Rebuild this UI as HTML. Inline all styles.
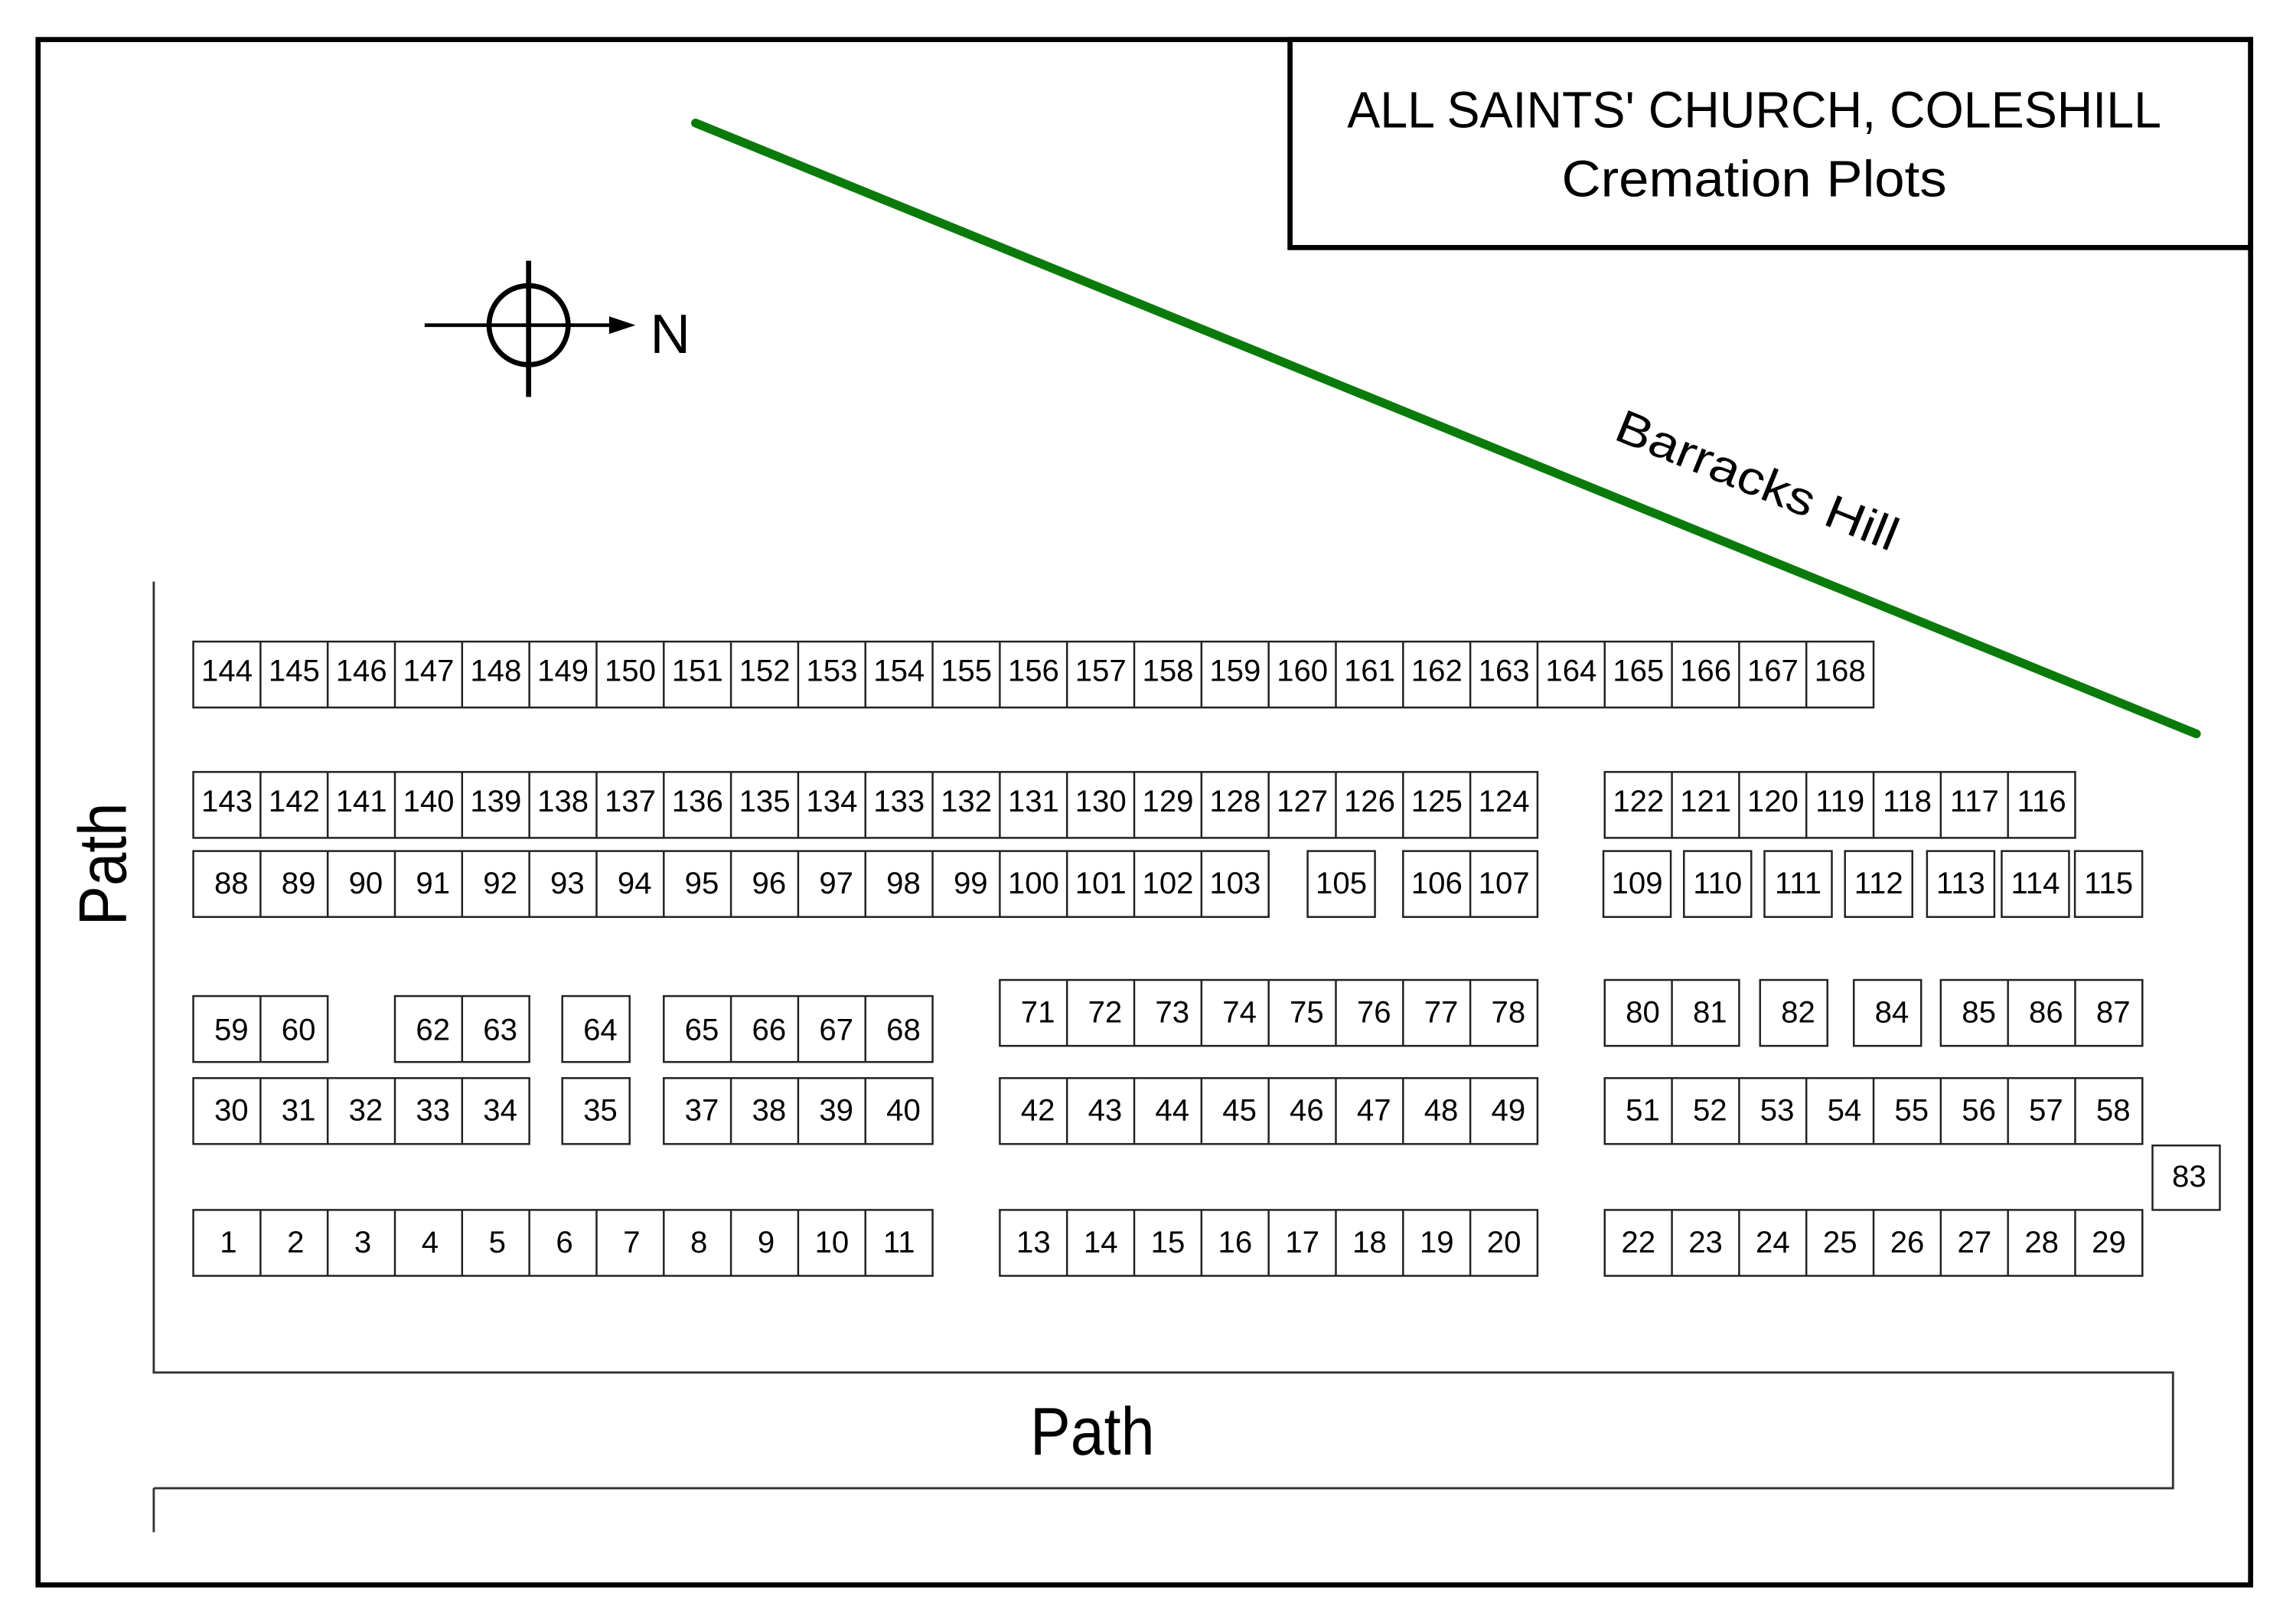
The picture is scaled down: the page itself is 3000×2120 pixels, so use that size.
<!DOCTYPE html>
<html><head><meta charset="utf-8"><style>
html,body{margin:0;padding:0;background:#fff;}
svg{display:block;}
text{font-family:"Liberation Sans",sans-serif;fill:#000;}
.c text{font-size:21px;text-anchor:middle;}
.c rect{fill:none;stroke:#222;stroke-width:1.3;}
.c path{fill:none;stroke:#222;stroke-width:1.3;}
</style></head><body>
<svg width="3000" height="2120" viewBox="0 0 1568 1108" preserveAspectRatio="none" xmlns="http://www.w3.org/2000/svg">
<rect x="26" y="27" width="1511" height="1055" fill="none" stroke="#000" stroke-width="3.5"/>
<rect x="881" y="27" width="656" height="142" fill="none" stroke="#000" stroke-width="3.5"/>
<text x="1198" y="87" font-size="35" text-anchor="middle" textLength="556" lengthAdjust="spacingAndGlyphs">ALL SAINTS' CHURCH, COLESHILL</text>
<text x="1198" y="134" font-size="35" text-anchor="middle" textLength="263" lengthAdjust="spacingAndGlyphs">Cremation Plots</text>
<line x1="475" y1="84" x2="1500" y2="501" stroke="#0a7a0a" stroke-width="6" stroke-linecap="round"/>
<text transform="translate(1196,338) rotate(22.1)" font-size="32" text-anchor="middle" textLength="205" lengthAdjust="spacingAndGlyphs">Barracks Hill</text>
<!-- compass -->
<circle cx="361" cy="222" r="27" fill="none" stroke="#000" stroke-width="3.5"/>
<line x1="290" y1="222" x2="420" y2="222" stroke="#000" stroke-width="2.5"/>
<polygon points="434,222 416,216 416,228" fill="#000"/>
<line x1="361" y1="178" x2="361" y2="271" stroke="#000" stroke-width="3.5"/>
<text x="444" y="241" font-size="38">N</text>
<!-- paths -->
<path d="M105,397 V937 H1484 V1016 H105 M105,1016 V1046" fill="none" stroke="#333" stroke-width="1.5"/>
<text x="746" y="993" font-size="46" text-anchor="middle" textLength="85" lengthAdjust="spacingAndGlyphs">Path</text>
<text transform="translate(86,590) rotate(-90)" font-size="46" text-anchor="middle" textLength="84" lengthAdjust="spacingAndGlyphs">Path</text>

<g class="c">
<!-- Row A 144-168 -->
<rect x="132" y="438" width="1147.5" height="45"/>
<path d="M177.9,438V483M223.8,438V483M269.7,438V483M315.6,438V483M361.5,438V483M407.4,438V483M453.3,438V483M499.2,438V483M545.1,438V483M591,438V483M636.9,438V483M682.8,438V483M728.7,438V483M774.6,438V483M820.5,438V483M866.4,438V483M912.3,438V483M958.2,438V483M1004.1,438V483M1050,438V483M1095.9,438V483M1141.8,438V483M1187.7,438V483M1233.6,438V483"/>
<text x="155" y="465">144</text><text x="200.9" y="465">145</text><text x="246.8" y="465">146</text><text x="292.7" y="465">147</text><text x="338.6" y="465">148</text><text x="384.5" y="465">149</text><text x="430.4" y="465">150</text><text x="476.3" y="465">151</text><text x="522.2" y="465">152</text><text x="568.1" y="465">153</text><text x="614" y="465">154</text><text x="659.9" y="465">155</text><text x="705.8" y="465">156</text><text x="751.7" y="465">157</text><text x="797.6" y="465">158</text><text x="843.5" y="465">159</text><text x="889.4" y="465">160</text><text x="935.3" y="465">161</text><text x="981.2" y="465">162</text><text x="1027.1" y="465">163</text><text x="1073" y="465">164</text><text x="1118.9" y="465">165</text><text x="1164.8" y="465">166</text><text x="1210.7" y="465">167</text><text x="1256.6" y="465">168</text>

<!-- Row B 143-124 -->
<rect x="132" y="527" width="918" height="45"/>
<path d="M177.9,527V572M223.8,527V572M269.7,527V572M315.6,527V572M361.5,527V572M407.4,527V572M453.3,527V572M499.2,527V572M545.1,527V572M591,527V572M636.9,527V572M682.8,527V572M728.7,527V572M774.6,527V572M820.5,527V572M866.4,527V572M912.3,527V572M958.2,527V572M1004.1,527V572"/>
<text x="155" y="554">143</text><text x="200.9" y="554">142</text><text x="246.8" y="554">141</text><text x="292.7" y="554">140</text><text x="338.6" y="554">139</text><text x="384.5" y="554">138</text><text x="430.4" y="554">137</text><text x="476.3" y="554">136</text><text x="522.2" y="554">135</text><text x="568.1" y="554">134</text><text x="614" y="554">133</text><text x="659.9" y="554">132</text><text x="705.8" y="554">131</text><text x="751.7" y="554">130</text><text x="797.6" y="554">129</text><text x="843.5" y="554">128</text><text x="889.4" y="554">127</text><text x="935.3" y="554">126</text><text x="981.2" y="554">125</text><text x="1027.1" y="554">124</text>
<rect x="1095.9" y="527" width="321.3" height="45"/>
<path d="M1141.8,527V572M1187.7,527V572M1233.6,527V572M1279.5,527V572M1325.4,527V572M1371.3,527V572"/>
<text x="1118.9" y="554">122</text><text x="1164.8" y="554">121</text><text x="1210.7" y="554">120</text><text x="1256.6" y="554">119</text><text x="1302.5" y="554">118</text><text x="1348.4" y="554">117</text><text x="1394.3" y="554">116</text>

<!-- Row C 88-115 -->
<rect x="132" y="581" width="734.4" height="45"/>
<path d="M177.9,581V626M223.8,581V626M269.7,581V626M315.6,581V626M361.5,581V626M407.4,581V626M453.3,581V626M499.2,581V626M545.1,581V626M591,581V626M636.9,581V626M682.8,581V626M728.7,581V626M774.6,581V626M820.5,581V626"/>
<text x="158" y="610">88</text><text x="203.9" y="610">89</text><text x="249.8" y="610">90</text><text x="295.7" y="610">91</text><text x="341.6" y="610">92</text><text x="387.5" y="610">93</text><text x="433.4" y="610">94</text><text x="479.3" y="610">95</text><text x="525.2" y="610">96</text><text x="571.1" y="610">97</text><text x="617" y="610">98</text><text x="662.9" y="610">99</text><text x="705.8" y="610">100</text><text x="751.7" y="610">101</text><text x="797.6" y="610">102</text><text x="843.5" y="610">103</text>
<rect x="893" y="581" width="46" height="45"/><text x="916" y="610">105</text>
<rect x="958.2" y="581" width="91.8" height="45"/><path d="M1004.1,581V626"/>
<text x="981.2" y="610">106</text><text x="1027.1" y="610">107</text>
<rect x="1095" y="581" width="46" height="45"/><text x="1118" y="610">109</text>
<rect x="1150" y="581" width="46" height="45"/><text x="1173" y="610">110</text>
<rect x="1205" y="581" width="46" height="45"/><text x="1228" y="610">111</text>
<rect x="1260" y="581" width="46" height="45"/><text x="1283" y="610">112</text>
<rect x="1316" y="581" width="46" height="45"/><text x="1339" y="610">113</text>
<rect x="1367" y="581" width="46" height="45"/><text x="1390" y="610">114</text>
<rect x="1417" y="581" width="46" height="45"/><text x="1440" y="610">115</text>

<!-- Row D left 59-68 -->
<rect x="132" y="680" width="91.8" height="45"/><path d="M177.9,680V725"/>
<text x="158" y="710">59</text><text x="203.9" y="710">60</text>
<rect x="269.7" y="680" width="91.8" height="45"/><path d="M315.6,680V725"/>
<text x="295.7" y="710">62</text><text x="341.6" y="710">63</text>
<rect x="384" y="680" width="46" height="45"/><text x="410" y="710">64</text>
<rect x="453.3" y="680" width="183.6" height="45"/><path d="M499.2,680V725M545.1,680V725M591,680V725"/>
<text x="479.3" y="710">65</text><text x="525.2" y="710">66</text><text x="571.1" y="710">67</text><text x="617" y="710">68</text>

<!-- Row D right 71-87 -->
<rect x="682.8" y="669" width="367.2" height="45"/>
<path d="M728.7,669V714M774.6,669V714M820.5,669V714M866.4,669V714M912.3,669V714M958.2,669V714M1004.1,669V714"/>
<text x="708.8" y="698">71</text><text x="754.7" y="698">72</text><text x="800.6" y="698">73</text><text x="846.5" y="698">74</text><text x="892.4" y="698">75</text><text x="938.3" y="698">76</text><text x="984.2" y="698">77</text><text x="1030.1" y="698">78</text>
<rect x="1095.9" y="669" width="91.8" height="45"/><path d="M1141.8,669V714"/>
<text x="1121.9" y="698">80</text><text x="1167.8" y="698">81</text>
<rect x="1202" y="669" width="46" height="45"/><text x="1228" y="698">82</text>
<rect x="1266" y="669" width="46" height="45"/><text x="1292" y="698">84</text>
<rect x="1325.4" y="669" width="137.7" height="45"/><path d="M1371.3,669V714M1417.2,669V714"/>
<text x="1351.4" y="698">85</text><text x="1397.3" y="698">86</text><text x="1443.2" y="698">87</text>

<!-- Row E 30-58 -->
<rect x="132" y="736" width="229.5" height="45"/>
<path d="M177.9,736V781M223.8,736V781M269.7,736V781M315.6,736V781"/>
<text x="158" y="765">30</text><text x="203.9" y="765">31</text><text x="249.8" y="765">32</text><text x="295.7" y="765">33</text><text x="341.6" y="765">34</text>
<rect x="384" y="736" width="46" height="45"/><text x="410" y="765">35</text>
<rect x="453.3" y="736" width="183.6" height="45"/><path d="M499.2,736V781M545.1,736V781M591,736V781"/>
<text x="479.3" y="765">37</text><text x="525.2" y="765">38</text><text x="571.1" y="765">39</text><text x="617" y="765">40</text>
<rect x="682.8" y="736" width="367.2" height="45"/>
<path d="M728.7,736V781M774.6,736V781M820.5,736V781M866.4,736V781M912.3,736V781M958.2,736V781M1004.1,736V781"/>
<text x="708.8" y="765">42</text><text x="754.7" y="765">43</text><text x="800.6" y="765">44</text><text x="846.5" y="765">45</text><text x="892.4" y="765">46</text><text x="938.3" y="765">47</text><text x="984.2" y="765">48</text><text x="1030.1" y="765">49</text>
<rect x="1095.9" y="736" width="367.2" height="45"/>
<path d="M1141.8,736V781M1187.7,736V781M1233.6,736V781M1279.5,736V781M1325.4,736V781M1371.3,736V781M1417.2,736V781"/>
<text x="1121.9" y="765">51</text><text x="1167.8" y="765">52</text><text x="1213.7" y="765">53</text><text x="1259.6" y="765">54</text><text x="1305.5" y="765">55</text><text x="1351.4" y="765">56</text><text x="1397.3" y="765">57</text><text x="1443.2" y="765">58</text>

<rect x="1470" y="782" width="46" height="44"/><text x="1495" y="810">83</text>

<!-- Row F 1-29 -->
<rect x="132" y="826" width="504.9" height="45"/>
<path d="M177.9,826V871M223.8,826V871M269.7,826V871M315.6,826V871M361.5,826V871M407.4,826V871M453.3,826V871M499.2,826V871M545.1,826V871M591,826V871"/>
<text x="156" y="855">1</text><text x="201.9" y="855">2</text><text x="247.8" y="855">3</text><text x="293.7" y="855">4</text><text x="339.6" y="855">5</text><text x="385.5" y="855">6</text><text x="431.4" y="855">7</text><text x="477.3" y="855">8</text><text x="523.2" y="855">9</text><text x="568.1" y="855">10</text><text x="614" y="855">11</text>
<rect x="682.8" y="826" width="367.2" height="45"/>
<path d="M728.7,826V871M774.6,826V871M820.5,826V871M866.4,826V871M912.3,826V871M958.2,826V871M1004.1,826V871"/>
<text x="705.8" y="855">13</text><text x="751.7" y="855">14</text><text x="797.6" y="855">15</text><text x="843.5" y="855">16</text><text x="889.4" y="855">17</text><text x="935.3" y="855">18</text><text x="981.2" y="855">19</text><text x="1027.1" y="855">20</text>
<rect x="1095.9" y="826" width="367.2" height="45"/>
<path d="M1141.8,826V871M1187.7,826V871M1233.6,826V871M1279.5,826V871M1325.4,826V871M1371.3,826V871M1417.2,826V871"/>
<text x="1118.9" y="855">22</text><text x="1164.8" y="855">23</text><text x="1210.7" y="855">24</text><text x="1256.6" y="855">25</text><text x="1302.5" y="855">26</text><text x="1348.4" y="855">27</text><text x="1394.3" y="855">28</text><text x="1440.2" y="855">29</text>
</g>
</svg>
</body></html>
